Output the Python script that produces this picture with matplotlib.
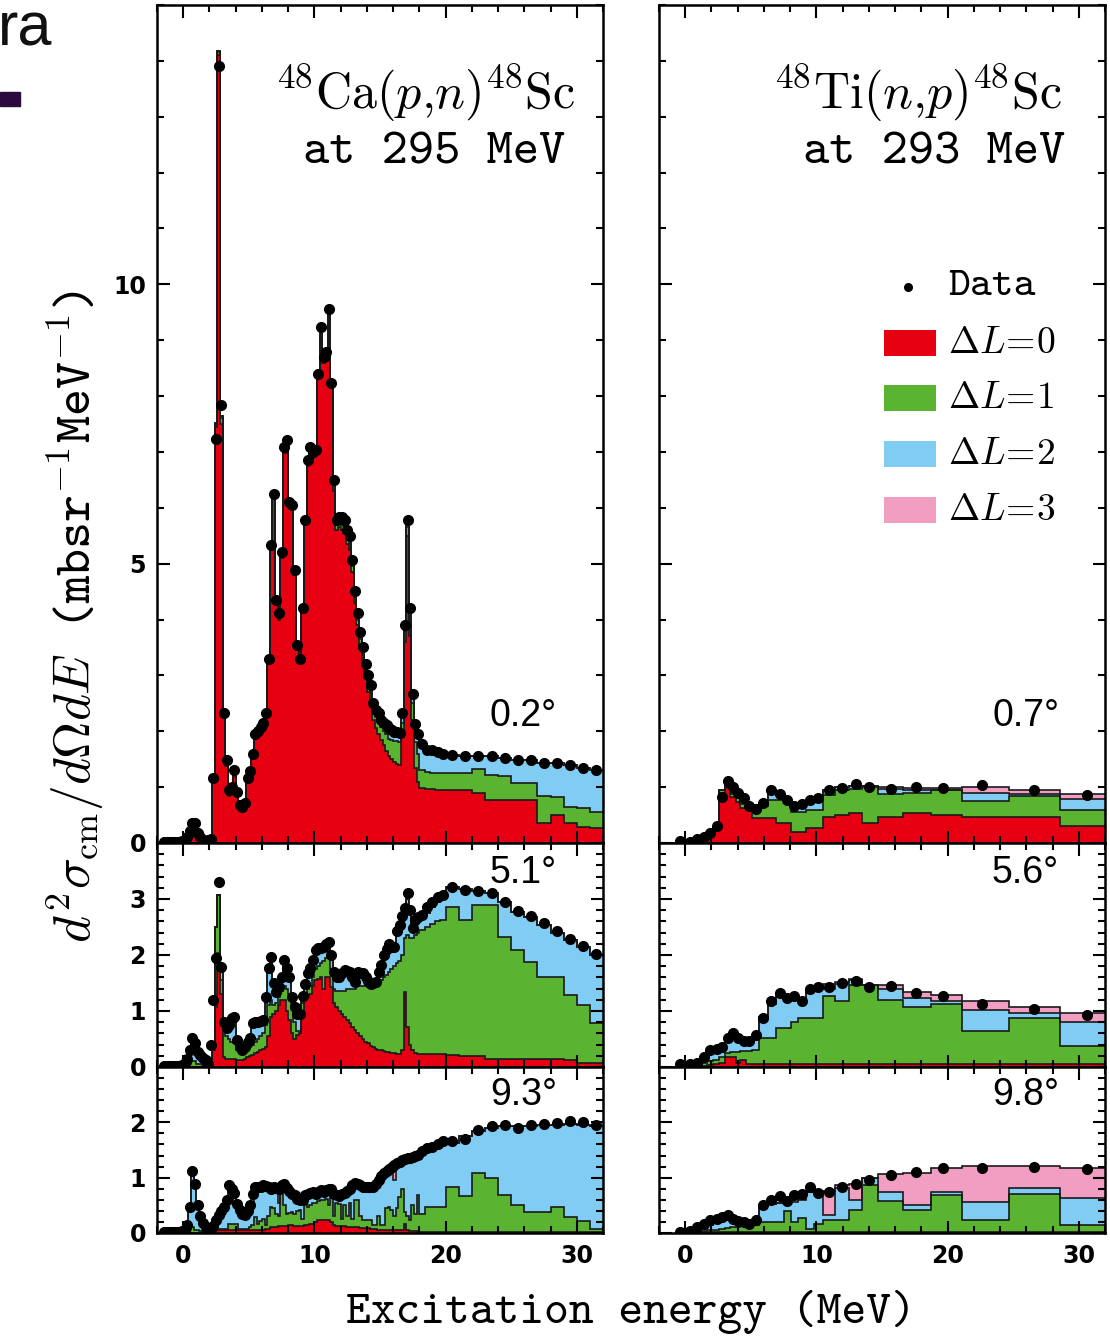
import matplotlib
matplotlib.use("Agg")
import matplotlib.pyplot as plt
from matplotlib.patches import Rectangle
from matplotlib.ticker import MultipleLocator
import numpy as np

plt.rcParams["mathtext.fontset"] = "cm"

# colours of the multipole components
C_L0 = "#E60012"
C_L1 = "#5BB431"
C_L2 = "#80CCF2"
C_L3 = "#F19EC2"

# ---------------- 48Ca(p,n) : 0.2 MeV bins to 18 MeV, then coarser ----------------
ca_edges = np.concatenate([np.linspace(-1.6, 18.0, 99),
                           [18.4, 18.8, 19.2, 19.6, 20.0],
                           np.arange(21, 33)])
ca_e = 0.5 * (ca_edges[1:] + ca_edges[:-1])

ca02_data = [
    0.01, 0.01, 0.01, 0.01, 0.02, 0.01, 0.02, 0.03, 0.05, 0.10,
    0.22, 0.35, 0.36, 0.18, 0.10, 0.05, 0.04, 0.05, 0.08, 1.16,
    7.24, 13.9, 7.84, 2.32, 1.48, 0.95, 1.00, 1.30, 0.91, 0.68,
    0.64, 0.71, 1.16, 1.28, 1.60, 1.95, 2.01, 2.08, 2.14, 2.32,
    3.29, 5.33, 6.24, 4.35, 4.11, 5.21, 7.08, 7.22, 6.11, 6.05,
    4.88, 3.54, 3.30, 4.21, 5.78, 6.85, 7.09, 7.00, 7.03, 8.40,
    9.24, 8.70, 8.79, 9.55, 8.23, 6.49, 5.79, 5.84, 5.84, 5.79,
    5.60, 5.50, 5.06, 4.51, 4.12, 3.78, 3.51, 3.21, 3.00, 2.83,
    2.51, 2.38, 2.32, 2.20, 2.14, 2.11, 2.05, 2.02, 1.99, 1.98,
    1.97, 2.33, 3.90, 5.78, 4.21, 2.66, 2.13, 1.96,
    1.78, 1.66, 1.66, 1.63, 1.60,
    1.58, 1.55, 1.55, 1.55, 1.53, 1.49, 1.48, 1.43, 1.43, 1.40, 1.34, 1.30]
ca02_l0 = [
    0, 0, 0, 0, 0, 0, 0, 0.01, 0.02, 0.03,
    0.05, 0.10, 0.10, 0.05, 0.03, 0.02, 0.02, 0.02, 0.05, 1.10,
    7.45, 14.1, 7.50, 2.25, 1.38, 0.85, 0.90, 1.20, 0.85, 0.62,
    0.60, 0.66, 1.10, 1.22, 1.55, 1.88, 1.95, 2.02, 2.08, 2.25,
    3.20, 5.25, 6.15, 4.30, 4.00, 5.10, 6.98, 7.10, 6.05, 5.98,
    4.80, 3.45, 3.20, 4.15, 5.70, 6.75, 7.00, 6.90, 6.95, 8.35,
    9.10, 8.60, 8.70, 9.45, 8.15, 6.30, 5.60, 5.65, 5.60, 5.55,
    5.35, 5.25, 4.85, 4.30, 3.90, 3.55, 3.25, 2.95, 2.70, 2.55,
    2.20, 2.05, 1.95, 1.85, 1.75, 1.65, 1.55, 1.50, 1.45, 1.42,
    1.40, 1.90, 3.60, 5.50, 3.70, 2.20, 1.35, 1.10,
    0.98, 0.97, 0.96, 0.95, 0.95,
    0.95, 0.95, 0.90, 0.77, 0.77, 0.77, 0.77, 0.35, 0.50, 0.35, 0.28, 0.26]
ca02_l1 = [
    0, 0, 0, 0, 0, 0, 0, 0, 0, 0,
    0.02, 0.03, 0.03, 0.02, 0.01, 0, 0, 0, 0, 0.03,
    0.05, 0.05, 0.10, 0.03, 0.03, 0.03, 0.03, 0.03, 0.02, 0.02,
    0.02, 0.02, 0.02, 0.03, 0.03, 0.03, 0.03, 0.03, 0.03, 0.03,
    0.05, 0.05, 0.05, 0.04, 0.05, 0.05, 0.06, 0.06, 0.05, 0.05,
    0.05, 0.05, 0.05, 0.04, 0.05, 0.05, 0.05, 0.05, 0.05, 0.05,
    0.08, 0.06, 0.05, 0.07, 0.06, 0.10, 0.10, 0.10, 0.10, 0.12,
    0.12, 0.10, 0.10, 0.10, 0.10, 0.10, 0.12, 0.13, 0.15, 0.15,
    0.18, 0.20, 0.22, 0.22, 0.25, 0.30, 0.32, 0.35, 0.38, 0.40,
    0.40, 0.25, 0.20, 0.15, 0.25, 0.30, 0.45, 0.50,
    0.32, 0.30, 0.30, 0.30, 0.30,
    0.30, 0.31, 0.43, 0.45, 0.43, 0.31, 0.30, 0.50, 0.33, 0.30, 0.34, 0.29]
ca02_l2 = [
    0, 0, 0, 0, 0, 0, 0, 0.01, 0.02, 0.05,
    0.12, 0.20, 0.22, 0.10, 0.05, 0.02, 0.01, 0.01, 0.01, 0.02,
    0.02, 0.02, 0.05, 0.03, 0.05, 0.05, 0.05, 0.05, 0.03, 0.03,
    0.02, 0.03, 0.03, 0.03, 0.03, 0.03, 0.03, 0.03, 0.03, 0.04,
    0.04, 0.04, 0.04, 0.03, 0.04, 0.04, 0.04, 0.04, 0.03, 0.03,
    0.03, 0.04, 0.04, 0.03, 0.04, 0.04, 0.04, 0.04, 0.04, 0.04,
    0.05, 0.04, 0.04, 0.04, 0.04, 0.05, 0.05, 0.05, 0.05, 0.06,
    0.06, 0.08, 0.08, 0.08, 0.08, 0.10, 0.10, 0.10, 0.12, 0.12,
    0.12, 0.12, 0.13, 0.13, 0.14, 0.15, 0.16, 0.16, 0.16, 0.15,
    0.15, 0.15, 0.10, 0.10, 0.20, 0.15, 0.20, 0.30,
    0.45, 0.38, 0.38, 0.37, 0.35,
    0.33, 0.29, 0.22, 0.33, 0.33, 0.41, 0.41, 0.58, 0.60, 0.75, 0.72, 0.75]

ca51_data = [
    0.01, 0.01, 0.01, 0.01, 0.01, 0.01, 0.02, 0.03, 0.08, 0.15,
    0.30, 0.52, 0.43, 0.26, 0.21, 0.16, 0.12, 0.05, 0.39, 1.20,
    1.94, 3.31, 1.78, 0.81, 0.69, 0.75, 0.87, 0.90, 0.49, 0.36,
    0.31, 0.36, 0.45, 0.51, 0.79, 0.81, 0.81, 0.82, 0.84, 1.25,
    1.76, 1.97, 1.50, 1.34, 1.43, 1.61, 1.91, 1.76, 1.60, 1.25,
    1.07, 0.95, 0.95, 1.27, 1.49, 1.67, 1.76, 1.91, 2.09, 2.12,
    2.12, 2.15, 2.20, 2.24, 2.00, 1.70, 1.61, 1.61, 1.68, 1.74,
    1.72, 1.70, 1.61, 1.52, 1.70, 1.68, 1.67, 1.60, 1.54, 1.49,
    1.50, 1.52, 1.70, 1.82, 2.00, 2.10, 2.20, 2.15, 2.15, 2.42,
    2.54, 2.70, 2.84, 3.10, 2.80, 2.48, 2.63, 2.68,
    2.72, 2.85, 2.95, 3.03, 3.07,
    3.21, 3.16, 3.15, 3.10, 2.95, 2.79, 2.70, 2.57, 2.43, 2.28, 2.16, 2.02]
ca51_l0 = [
    0, 0, 0, 0, 0, 0, 0, 0, 0, 0,
    0, 0, 0, 0, 0, 0, 0, 0, 0, 0.30,
    1.08, 2.03, 1.30, 0.18, 0.15, 0.15, 0.15, 0.15, 0.12, 0.12,
    0.12, 0.15, 0.18, 0.20, 0.22, 0.25, 0.27, 0.30, 0.33, 0.36,
    0.55, 0.90, 0.95, 1.00, 1.10, 1.20, 1.20, 1.00, 0.84, 0.60,
    0.50, 0.57, 0.60, 0.90, 1.20, 1.25, 1.30, 1.45, 1.55, 1.58,
    1.60, 1.40, 1.61, 1.61, 1.43, 1.14, 1.08, 1.00, 0.95, 0.90,
    0.84, 0.78, 0.72, 0.66, 0.60, 0.55, 0.50, 0.45, 0.42, 0.38,
    0.35, 0.33, 0.31, 0.30, 0.28, 0.27, 0.26, 0.25, 0.25, 0.24,
    0.24, 0.30, 1.34, 0.72, 0.39, 0.30, 0.25, 0.24,
    0.24, 0.24, 0.24, 0.24, 0.24,
    0.22, 0.20, 0.20, 0.15, 0.15, 0.15, 0.15, 0.14, 0.15, 0.12, 0.07, 0.07]
ca51_l1 = [
    0, 0, 0, 0, 0, 0, 0, 0, 0, 0,
    0.05, 0.10, 0.10, 0.05, 0.05, 0.03, 0.02, 0.01, 0.01, 0.10,
    1.42, 1.04, 0.25, 0.52, 0.40, 0.35, 0.30, 0.27, 0.18, 0.16,
    0.16, 0.15, 0.14, 0.15, 0.18, 0.20, 0.23, 0.25, 0.27, 0.39,
    0.55, 0.30, 0.15, 0.15, 0.15, 0.15, 0.25, 0.40, 0.46, 0.45,
    0.30, 0.08, 0.05, 0.25, 0.10, 0.15, 0.15, 0.15, 0.20, 0.22,
    0.25, 0.50, 0.34, 0.39, 0.32, 0.26, 0.27, 0.35, 0.40, 0.45,
    0.56, 0.62, 0.68, 0.74, 0.85, 0.90, 0.95, 1.00, 1.00, 1.04,
    1.10, 1.17, 1.24, 1.25, 1.32, 1.38, 1.44, 1.50, 1.55, 1.61,
    1.66, 1.70, 0.96, 1.63, 1.91, 2.00, 2.10, 2.16,
    2.21, 2.26, 2.31, 2.36, 2.39,
    2.64, 2.43, 2.69, 2.74, 2.17, 1.94, 1.73, 1.47, 1.46, 1.16, 1.04, 0.71]
ca51_l2 = [
    0, 0, 0, 0, 0, 0, 0.01, 0.02, 0.05, 0.10,
    0.23, 0.35, 0.30, 0.20, 0.15, 0.11, 0.08, 0.03, 0.02, 0,
    0, 0, 0.15, 0.10, 0.15, 0.22, 0.35, 0.43, 0.15, 0.07,
    0.02, 0.05, 0.13, 0.15, 0.32, 0.33, 0.30, 0.25, 0.22, 0.40,
    0.60, 0.65, 0.35, 0.15, 0.15, 0.20, 0.40, 0.30, 0.25, 0.15,
    0.20, 0.25, 0.30, 0.10, 0.15, 0.20, 0.25, 0.25, 0.25, 0.25,
    0.23, 0.20, 0.20, 0.20, 0.20, 0.25, 0.23, 0.23, 0.25, 0.35,
    0.28, 0.25, 0.18, 0.10, 0.20, 0.17, 0.15, 0.10, 0.08, 0.03,
    0.03, 0, 0.10, 0.25, 0.35, 0.40, 0.45, 0.35, 0.32, 0.50,
    0.55, 0.60, 0.50, 0.65, 0.45, 0.15, 0.25, 0.25,
    0.20, 0.25, 0.30, 0.35, 0.37,
    0.36, 0.54, 0.26, 0.21, 0.63, 0.68, 0.80, 0.93, 0.78, 0.99, 1.04, 1.22]

ca93_data = [
    0.02, 0.02, 0.02, 0.02, 0.02, 0.02, 0.02, 0.03, 0.05, 0.15,
    0.47, 1.12, 0.89, 0.50, 0.30, 0.18, 0.10, 0.05, 0.04, 0.12,
    0.23, 0.33, 0.40, 0.47, 0.60, 0.86, 0.80, 0.72, 0.53, 0.41,
    0.34, 0.32, 0.39, 0.50, 0.70, 0.83, 0.83, 0.84, 0.86, 0.85,
    0.83, 0.80, 0.83, 0.82, 0.80, 0.86, 0.89, 0.82, 0.76, 0.71,
    0.68, 0.62, 0.60, 0.59, 0.68, 0.70, 0.72, 0.74, 0.71, 0.75,
    0.77, 0.74, 0.78, 0.79, 0.80, 0.71, 0.68, 0.66, 0.71, 0.73,
    0.76, 0.80, 0.86, 0.90, 0.88, 0.86, 0.83, 0.84, 0.84, 0.83,
    0.83, 0.88, 0.95, 1.03, 1.08, 1.12, 1.16, 1.20, 1.22, 1.26,
    1.29, 1.32, 1.34, 1.36, 1.35, 1.37, 1.39, 1.41,
    1.49, 1.54, 1.55, 1.60, 1.66,
    1.67, 1.69, 1.87, 1.93, 1.95, 1.90, 1.95, 1.97, 1.99, 2.02, 2.00, 1.96]
ca93_l0 = [
    0, 0, 0, 0, 0, 0, 0, 0, 0, 0,
    0, 0, 0, 0, 0, 0, 0, 0, 0, 0.10,
    0.14, 0.05, 0.05, 0.05, 0.05, 0.05, 0.05, 0.05, 0.05, 0.05,
    0.05, 0.05, 0.05, 0.05, 0.06, 0.06, 0.06, 0.06, 0.06, 0.08,
    0.08, 0.10, 0.10, 0.10, 0.12, 0.12, 0.12, 0.13, 0.14, 0.14,
    0.13, 0.12, 0.12, 0.12, 0.14, 0.15, 0.17, 0.17, 0.20, 0.24,
    0.24, 0.24, 0.24, 0.24, 0.20, 0.14, 0.12, 0.12, 0.12, 0.12,
    0.11, 0.11, 0.10, 0.10, 0.10, 0.09, 0.09, 0.09, 0.09, 0.08,
    0.07, 0.07, 0.06, 0.06, 0.06, 0.05, 0.05, 0.05, 0.05, 0.05,
    0.05, 0.05, 0.17, 0.05, 0.03, 0.03, 0.03, 0.02,
    0.02, 0.02, 0.02, 0.02, 0.02,
    0.02, 0.02, 0.02, 0.02, 0.02, 0.01, 0.01, 0.01, 0.01, 0.01, 0.01, 0.01]
ca93_l1 = [
    0, 0, 0, 0, 0, 0, 0, 0, 0, 0,
    0.05, 0.10, 0.05, 0.05, 0.03, 0.02, 0.01, 0, 0, 0,
    0, 0.03, 0.03, 0.03, 0.03, 0.12, 0.12, 0.12, 0.12, 0.03,
    0.03, 0.03, 0.03, 0.05, 0.09, 0.23, 0.11, 0.16, 0.19, 0.07,
    0.22, 0.37, 0.35, 0.25, 0.18, 0.59, 0.38, 0.22, 0.22, 0.24,
    0.22, 0.28, 0.30, 0.13, 0.46, 0.32, 0.33, 0.38, 0.35, 0.34,
    0.35, 0.36, 0.38, 0.26, 0.45, 0.16, 0.43, 0.41, 0.13, 0.38,
    0.19, 0.44, 0.15, 0.50, 0.50, 0.21, 0.14, 0.14, 0.14, 0.15,
    0.07, 0.07, 0.24, 0.08, 0.08, 0.40, 0.42, 0.36, 0.25, 0.40,
    0.60, 0.75, 0.21, 0.25, 0.20, 0.47, 0.32, 0.66,
    0.33, 0.45, 0.45, 0.45, 0.45,
    0.82, 0.64, 1.06, 0.98, 0.66, 0.49, 0.37, 0.37, 0.46, 0.28, 0.21, 0.07]
ca93_l2 = [
    0, 0, 0, 0, 0, 0, 0, 0.01, 0.03, 0.12,
    0.35, 0.95, 0.80, 0.40, 0.25, 0.13, 0.07, 0.03, 0.02, 0.02,
    0.06, 0.22, 0.30, 0.37, 0.47, 0.58, 0.55, 0.33, 0.33, 0.30,
    0.24, 0.22, 0.28, 0.35, 0.40, 0.51, 0.63, 0.58, 0.57, 0.67,
    0.50, 0.31, 0.35, 0.45, 0.25, 0.13, 0.36, 0.45, 0.38, 0.32,
    0.31, 0.20, 0.16, 0.33, 0.06, 0.21, 0.20, 0.17, 0.15, 0.14,
    0.16, 0.13, 0.14, 0.28, 0.13, 0.40, 0.12, 0.12, 0.45, 0.22,
    0.45, 0.23, 0.59, 0.28, 0.26, 0.54, 0.59, 0.59, 0.59, 0.59,
    0.68, 0.72, 0.63, 0.86, 0.92, 0.65, 0.67, 0.77, 0.65, 0.79,
    0.62, 0.50, 0.94, 1.04, 1.10, 0.85, 1.02, 0.71,
    1.12, 1.05, 1.07, 1.11, 1.16,
    0.79, 1.09, 0.76, 0.90, 1.25, 1.43, 1.56, 1.57, 1.49, 1.68, 1.74, 1.85]
ca93_l3 = np.zeros(len(ca_e))
ca93_l3[[27, 34, 44, 88]] = [0.20, 0.15, 0.20, 0.25]

# ---------------- 48Ti(n,p) ----------------
ti_edges = [-0.6, 0.0, 0.65, 1.15, 1.65, 2.15, 2.6, 3.0, 3.45, 3.85, 4.2,
            4.65, 5.1, 5.6, 6.3, 6.9, 7.5, 8.05, 8.6, 9.2, 9.8, 10.5, 11.45,
            12.5, 13.5, 14.7, 16.6, 18.7, 21.1, 24.7, 28.6, 32.0]
ti_e = [-0.38, 0.38, 0.89, 1.4, 1.91, 2.42, 2.8, 3.23, 3.64, 4.0, 4.45,
        4.86, 5.37, 5.93, 6.54, 7.2, 7.76, 8.32, 8.93, 9.54, 10.15, 10.94,
        11.95, 12.98, 13.99, 15.65, 17.6, 19.67, 22.65, 26.6, 30.66]

ti07_data = [0.04, 0.02, 0.08, 0.11, 0.18, 0.30, 0.83, 1.11, 1.00, 0.89, 0.80,
             0.66, 0.60, 0.72, 0.94, 0.87, 0.77, 0.66, 0.70, 0.77, 0.81, 0.94,
             0.98, 1.05, 1.01, 0.96, 1.01, 0.98, 1.04, 0.95, 0.86]
ti07_l0 = [0, 0.01, 0.04, 0.10, 0.15, 0.25, 0.90, 0.98, 0.83, 0.74, 0.62,
           0.59, 0.44, 0.44, 0.44, 0.36, 0.36, 0.20, 0.20, 0.27, 0.27, 0.47,
           0.50, 0.53, 0.36, 0.47, 0.53, 0.50, 0.47, 0.47, 0.30]
ti07_l1 = [0, 0, 0.01, 0.01, 0.01, 0.02, 0.05, 0.03, 0.05, 0.08, 0.08,
           0.07, 0.22, 0.22, 0.33, 0.41, 0.41, 0.36, 0.36, 0.32, 0.32, 0.39,
           0.45, 0.43, 0.64, 0.40, 0.37, 0.44, 0.28, 0.37, 0.29]
ti07_l2 = [0, 0.01, 0.01, 0.01, 0.02, 0.02, 0, 0.01, 0.02, 0.03, 0.05,
           0.02, 0.02, 0.04, 0.15, 0.13, 0.03, 0.12, 0.14, 0.15, 0.21, 0.09,
           0.05, 0.06, 0.02, 0.09, 0.04, 0.01, 0.15, 0.04, 0.19]
ti07_l3 = [0, 0, 0, 0, 0, 0, 0, 0, 0, 0, 0,
           0, 0, 0, 0, 0, 0, 0, 0, 0, 0, 0,
           0, 0, 0, 0.04, 0.04, 0.03, 0.10, 0.07, 0.10]

ti56_data = [0.05, 0.05, 0.07, 0.18, 0.30, 0.33, 0.36, 0.51, 0.61, 0.52, 0.47,
             0.47, 0.57, 0.88, 1.17, 1.33, 1.23, 1.26, 1.17, 1.40, 1.43, 1.43,
             1.50, 1.53, 1.42, 1.44, 1.32, 1.26, 1.12, 1.03, 0.93]
ti56_l0 = [0, 0, 0.01, 0.02, 0.03, 0.05, 0.08, 0.18, 0.18, 0.08, 0.12,
           0.06, 0.05, 0.05, 0.05, 0.05, 0.05, 0.05, 0.05, 0.05, 0.05, 0.06,
           0.06, 0.06, 0.05, 0.05, 0.05, 0.05, 0.05, 0.05, 0.05]
ti56_l1 = [0, 0.01, 0.03, 0.06, 0.07, 0.08, 0.10, 0.07, 0.09, 0.19, 0.16,
           0.23, 0.25, 0.46, 0.46, 0.64, 0.64, 0.75, 0.82, 0.82, 0.82, 1.20,
           1.11, 1.40, 1.41, 1.15, 1.03, 1.08, 0.60, 0.82, 0.33]
ti56_l2 = [0, 0.01, 0.03, 0.09, 0.15, 0.17, 0.16, 0.20, 0.28, 0.23, 0.17,
           0.15, 0.20, 0.39, 0.62, 0.59, 0.51, 0.45, 0.33, 0.53, 0.53, 0.14,
           0.32, 0.09, 0.0, 0.19, 0.15, 0.04, 0.37, 0.09, 0.43]
ti56_l3 = [0.01, 0.01, 0, 0, 0, 0, 0, 0, 0, 0, 0,
           0, 0, 0, 0, 0, 0, 0, 0, 0, 0, 0.09,
           0.03, 0.03, 0, 0.07, 0.11, 0.11, 0.15, 0.11, 0.16]

ti98_data = [0.02, 0.04, 0.10, 0.17, 0.23, 0.26, 0.29, 0.32, 0.26, 0.22, 0.20,
             0.17, 0.24, 0.50, 0.59, 0.66, 0.58, 0.68, 0.70, 0.83, 0.72, 0.74,
             0.84, 0.88, 0.96, 1.05, 1.10, 1.17, 1.17, 1.20, 1.15]
ti98_l0 = [0, 0, 0.01, 0.01, 0.01, 0.01, 0.01, 0.01, 0.01, 0.01, 0.01,
           0.01, 0.01, 0.01, 0.01, 0.01, 0.01, 0.01, 0.01, 0.01, 0.01, 0.01,
           0.01, 0.01, 0.01, 0.01, 0.01, 0.01, 0.01, 0.01, 0.01]
ti98_l1 = [0, 0.01, 0.01, 0.02, 0.04, 0.05, 0.07, 0.08, 0.09, 0.10, 0.11,
           0.12, 0.14, 0.18, 0.18, 0.18, 0.39, 0.18, 0.27, 0.07, 0.16, 0.23,
           0.23, 0.41, 0.85, 0.56, 0.41, 0.68, 0.23, 0.70, 0.13]
ti98_l2 = [0, 0.01, 0.03, 0.07, 0.10, 0.16, 0.17, 0.18, 0.14, 0.09, 0.06,
           0.04, 0.05, 0.31, 0.34, 0.36, 0.19, 0.37, 0.31, 0.67, 0.54, 0.08,
           0.58, 0.17, 0.14, 0.17, 0.08, 0.05, 0.32, 0.10, 0.49]
ti98_l3 = [0, 0, 0, 0, 0, 0, 0, 0, 0, 0, 0,
           0, 0, 0, 0, 0, 0, 0.06, 0.02, 0, 0, 0.44,
           0.04, 0.29, 0, 0.32, 0.58, 0.44, 0.65, 0.40, 0.55]

angles_ca = ["0.2°", "5.1°", "9.3°"]
angles_ti = ["0.7°", "5.6°", "9.8°"]
ylims = [15, 4, 3]

TT = "cmtt10"


def draw_panel(ax, edges, parts, e_data, v_data):
    base = np.zeros(len(edges) - 1)
    tops = []
    for vals, col in zip(parts, [C_L0, C_L1, C_L2, C_L3]):
        top = base + np.asarray(vals, dtype=float)
        ax.stairs(top, edges, baseline=base, fill=True, color=col, lw=0)
        tops.append(top)
        base = top
    for top in tops:
        ax.stairs(top, edges, baseline=None, color="#1a1a1a", lw=1.2)
    ax.plot(e_data, v_data, "o", color="black", ms=7, zorder=5)


fig = plt.figure(figsize=(11.1, 13.38), dpi=100)

col_x = [157 / 1110, 659 / 1110]
col_w = 446 / 1110
rows = [(843, 5), (1067, 843), (1233, 1067)]

panels = [
    [(ca_edges, [ca02_l0, ca02_l1, ca02_l2, np.zeros(len(ca_e))], ca_e, ca02_data),
     (ti_edges, [ti07_l0, ti07_l1, ti07_l2, ti07_l3], ti_e, ti07_data)],
    [(ca_edges, [ca51_l0, ca51_l1, ca51_l2, np.zeros(len(ca_e))], ca_e, ca51_data),
     (ti_edges, [ti56_l0, ti56_l1, ti56_l2, ti56_l3], ti_e, ti56_data)],
    [(ca_edges, [ca93_l0, ca93_l1, ca93_l2, ca93_l3], ca_e, ca93_data),
     (ti_edges, [ti98_l0, ti98_l1, ti98_l2, ti98_l3], ti_e, ti98_data)],
]

axes = {}
for r, (ybot, ytop) in enumerate(rows):
    for c in range(2):
        ax = fig.add_axes([col_x[c], 1 - ybot / 1338, col_w, (ybot - ytop) / 1338])
        axes[(r, c)] = ax
        edges, parts, e_d, v_d = panels[r][c]
        draw_panel(ax, edges, parts, e_d, v_d)
        ax.set_xlim(-2, 32)
        ax.set_ylim(0, ylims[r])
        ax.xaxis.set_major_locator(MultipleLocator(10))
        ax.xaxis.set_minor_locator(MultipleLocator(2))
        if r == 0:
            ax.set_yticks([0, 5, 10])
            ax.yaxis.set_minor_locator(MultipleLocator(1))
        else:
            ax.set_yticks(list(range(ylims[r])))
            ax.yaxis.set_minor_locator(MultipleLocator(0.2))
        ax.tick_params(which="both", direction="in", top=True, right=True,
                       width=1.5, colors="black")
        ax.tick_params(which="major", length=9)
        ax.tick_params(which="minor", length=5)
        for sp in ax.spines.values():
            sp.set_linewidth(1.8)
        ax.tick_params(labelbottom=(r == 2), labelleft=(c == 0),
                       labelsize=17, pad=8)
        for lab in ax.get_xticklabels() + ax.get_yticklabels():
            lab.set_fontweight("bold")
            lab.set_family("DejaVu Sans")
        lab_y = [0.152, 0.866, 0.83][r]
        ax.text(0.897, lab_y, (angles_ca if c == 0 else angles_ti)[r],
                transform=ax.transAxes, ha="right", va="center",
                fontsize=27, family="Liberation Sans")

# reaction labels
ax = axes[(0, 0)]
ax.text(0.937, 0.877, r"$^{48}\mathrm{Ca}(p{,}n)^{48}\mathrm{Sc}$", transform=ax.transAxes,
        ha="right", va="baseline", fontsize=36)
ax.text(0.915, 0.811, "at 295 MeV", transform=ax.transAxes, ha="right",
        va="baseline", fontsize=36, family=TT)
ax = axes[(0, 1)]
ax.text(0.904, 0.877, r"$^{48}\mathrm{Ti}(n{,}p)^{48}\mathrm{Sc}$", transform=ax.transAxes,
        ha="right", va="baseline", fontsize=36)
ax.text(0.910, 0.811, "at 293 MeV", transform=ax.transAxes, ha="right",
        va="baseline", fontsize=36, family=TT)

# legend drawn by hand
ax.plot([0.558], [0.663], "o", color="black", ms=5.5, transform=ax.transAxes)
ax.text(0.648, 0.663, "Data", transform=ax.transAxes, ha="left", va="center",
        fontsize=30, family=TT)
leg_y = [0.5967, 0.531, 0.4642, 0.3974]
for i, (col, yy) in enumerate(zip([C_L0, C_L1, C_L2, C_L3], leg_y)):
    ax.add_patch(Rectangle((0.5045, yy - 0.015), 0.1166, 0.030, color=col,
                           transform=ax.transAxes, lw=0))
    ax.text(0.648, yy, r"$\Delta L\!=\!%d$" % i, transform=ax.transAxes,
            ha="left", va="center", fontsize=27)

fig.text(75 / 1110, 1 - 617 / 1338,
         r"$d^2\sigma_{\rm cm}/d\Omega dE$ (mbsr$^{-1}$MeV$^{-1}$)",
         rotation=90, ha="center", va="center", fontsize=37, family=TT)
fig.text(631 / 1110, 1 - 1312 / 1338, "Excitation energy (MeV)", ha="center",
         va="center", fontsize=34, family=TT)

fig.text(-0.002, 1 - 45 / 1338, "ra", ha="left", va="baseline", fontsize=44,
         family="Liberation Sans", color="#111111")
fig.patches.append(Rectangle((0, 1 - 106 / 1338), 20 / 1110, 14 / 1338,
                             color="#2b0a3d", transform=fig.transFigure,
                             figure=fig))

fig.savefig("out.png", dpi=100)
